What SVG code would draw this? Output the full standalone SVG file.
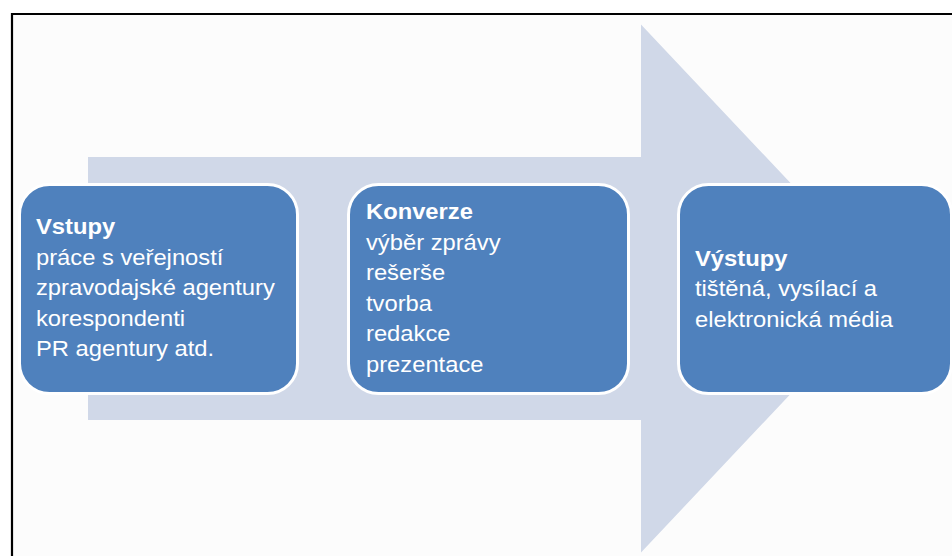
<svg xmlns="http://www.w3.org/2000/svg" width="952" height="556" viewBox="0 0 952 556">
<style>
.box{fill:#4f81bd;stroke:#ffffff;stroke-width:3}
.t{font-family:"Liberation Sans",Arial,sans-serif;font-size:22px;fill:#ffffff}
.b{font-weight:bold}
</style>
<rect x="0" y="0" width="952" height="556" fill="#ffffff"/>
<rect x="12" y="14" width="940" height="542" fill="#fcfcfc"/>
<g id="frame" fill="none" stroke="#000000" stroke-width="2.2">
<path d="M12,556 V14 H952"/>
</g>
<g id="connectors">
<polygon id="arrow" points="88,157 641,157 641,24.5 890,288.5 641,552.5 641,420 88,420" fill="#d0d8e8"/>
</g>
<g id="vstupy">
<rect class="box" x="19.5" y="184.5" width="278" height="209" rx="30"/>
<g transform="translate(36,0) scale(1.08,1)">
<text class="t" x="0" y="234.5"><tspan class="b">Vstupy</tspan></text>
<text class="t" x="0" y="265">práce s veřejností</text>
<text class="t" x="0" y="295.5">zpravodajské agentury</text>
<text class="t" x="0" y="326">korespondenti</text>
<text class="t" x="0" y="356.5">PR agentury atd.</text>
</g>
</g>
<g id="konverze">
<rect class="box" x="348.5" y="184.5" width="280" height="209" rx="30"/>
<g transform="translate(366,0) scale(1.08,1)">
<text class="t" x="0" y="219.5"><tspan class="b">Konverze</tspan></text>
<text class="t" x="0" y="250">výběr zprávy</text>
<text class="t" x="0" y="280.5">rešerše</text>
<text class="t" x="0" y="311">tvorba</text>
<text class="t" x="0" y="341.5">redakce</text>
<text class="t" x="0" y="372">prezentace</text>
</g>
</g>
<g id="vystupy">
<rect class="box" x="678.5" y="184.5" width="273" height="209" rx="30"/>
<g transform="translate(695,0) scale(1.08,1)">
<text class="t" x="0" y="266"><tspan class="b">Výstupy</tspan></text>
<text class="t" x="0" y="296.5">tištěná, vysílací a</text>
<text class="t" x="0" y="327">elektronická média</text>
</g>
</g>
</svg>
